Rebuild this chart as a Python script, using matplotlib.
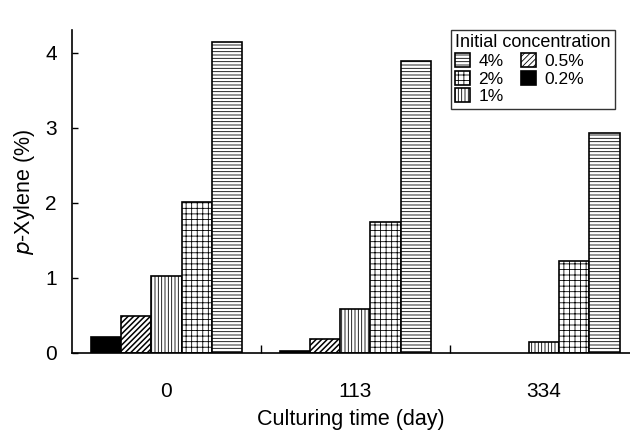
import matplotlib
matplotlib.use("Agg")
import matplotlib.pyplot as plt
import numpy as np

plt.rcParams['font.family'] = ['Liberation Sans', 'DejaVu Sans']

days = ["0", "113", "334"]
series_labels = ["0.2%", "0.5%", "1%", "2%", "4%"]
values = {
    "0.2%": [0.21, 0.03, 0.0],
    "0.5%": [0.49, 0.19, 0.0],
    "1%":   [1.03, 0.58, 0.15],
    "2%":   [2.01, 1.74, 1.23],
    "4%":   [4.14, 3.89, 2.93],
}
hatches = {"0.2%": "", "0.5%": "//////", "1%": "|||||", "2%": "+++", "4%": "-----"}
hatch_lw = {"0.2%": 0.6, "0.5%": 1.1, "1%": 0.6, "2%": 0.6, "4%": 0.6}
faces = {"0.2%": "black", "0.5%": "white", "1%": "white", "2%": "white", "4%": "white"}

fig = plt.figure(figsize=(6.3, 4.3), dpi=100)
ax = fig.add_axes([72/630, 77/430, 558/630, 323/430])

x = np.arange(len(days))
w = 0.16
handles = {}
for j, s in enumerate(series_labels):
    plt.rcParams['hatch.linewidth'] = hatch_lw[s]
    vals = np.array(values[s])
    lws = [1.2 if v > 0 else 0 for v in vals]
    b = ax.bar(x + (j - 2) * w, vals, width=w, facecolor=faces[s],
               edgecolor="black", linewidth=lws, hatch=hatches[s], label=s)
    for rect, v in zip(b, vals):
        if v <= 0:
            rect.set_visible(False)
    handles[s] = b

ax.set_xlim(-0.5, 2.455)
ax.set_ylim(0, 4.3)
ax.set_yticks([0, 1, 2, 3, 4])
ax.set_xticks(x)
ax.set_xticklabels(days)
ax.set_xticks([0.5, 1.5], minor=True)
ax.tick_params(axis='x', which='major', length=0, pad=21, labelsize=15)
ax.tick_params(axis='x', which='minor', direction='in', length=6, width=1)
ax.tick_params(axis='y', direction='in', length=4, width=1, pad=11, labelsize=15)

for sp in ['top', 'right']:
    ax.spines[sp].set_visible(False)
for sp in ['left', 'bottom']:
    ax.spines[sp].set_linewidth(1.2)

ax.set_ylabel(r"$p$-Xylene (%)", fontsize=15.5, labelpad=6)
ax.set_xlabel("Culturing time (day)", fontsize=15.5, labelpad=6)

order = ["4%", "2%", "1%", "0.5%", "0.2%"]
leg_handles = [handles[s].patches[0] for s in order]
leg = ax.legend(leg_handles, order, ncol=2, loc='upper right',
                bbox_to_anchor=(0.973, 1.0), borderaxespad=0, fontsize=12.5,
                title="Initial concentration", title_fontsize=13,
                fancybox=False, frameon=True, edgecolor='black',
                handlelength=0.85, handleheight=0.85, handletextpad=0.5,
                columnspacing=1.0, labelspacing=0.1, borderpad=0.25)
leg.get_frame().set_linewidth(1.0)
leg._legend_box.align = "left"

fig.savefig("out.png", dpi=100)
